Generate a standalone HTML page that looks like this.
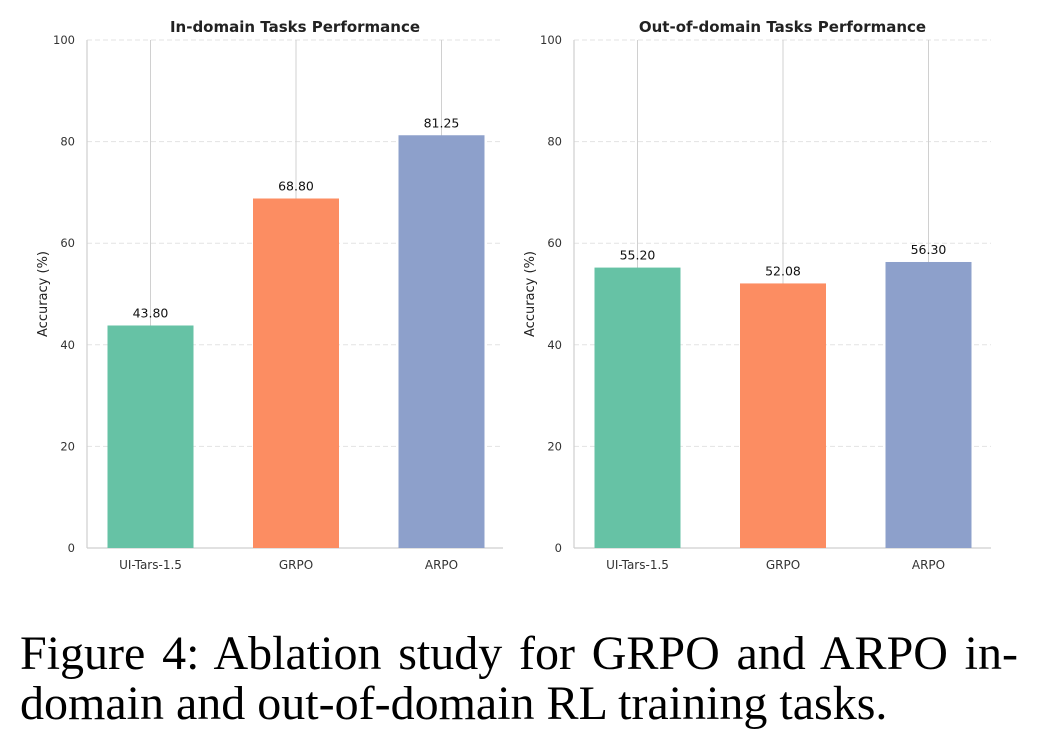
<!DOCTYPE html>
<html><head><meta charset="utf-8"><style>
body{margin:0;background:#fff;width:1042px;height:735px;overflow:hidden}
.cap{position:absolute;left:20px;font-family:"Liberation Serif",serif;font-size:48px;color:#000;white-space:nowrap;line-height:1}
</style></head><body>
<svg id="chart" width="1042" height="600" style="position:absolute;left:0;top:0" font-family="DejaVu Sans, Liberation Sans, sans-serif"></svg>
<div class="cap" style="top:630px;width:998px;text-align:justify;text-align-last:justify">Figure 4: Ablation study for GRPO and ARPO in-</div>
<div class="cap" style="top:680px">domain and out-of-domain RL training tasks.</div>
<script>
const categories = ["UI-Tars-1.5","GRPO","ARPO"];
const inDomain = [43.80, 68.80, 81.25];
const outDomain = [55.20, 52.08, 56.30];
const yTicks = [0,20,40,60,80,100];
const colors = ["#66c2a5","#fc8d62","#8da0cb"];
const NS="http://www.w3.org/2000/svg";
const svg=document.getElementById('chart');
function mk(t,a,txt){const e=document.createElementNS(NS,t);for(const k in a)e.setAttribute(k,a[k]);if(txt!==undefined)e.textContent=txt;svg.appendChild(e);return e;}
function panel(x0,x1,title,vals,key){
  const yTop=40,yBot=548;
  const y=v=>yBot-(v/100)*(yBot-yTop);
  const first=x0+63.5;
  const cx=i=>first+i*145.5;
  yTicks.forEach(t=>{
    if(t>0){const g=mk('line',{x1:x0,x2:x1,y1:y(t),y2:y(t),stroke:'#e3e3e3','stroke-dasharray':'5,3','stroke-width':1});
    }
    const l=mk('text',{x:x0-12,y:y(t)+4,'text-anchor':'end','font-size':11.5,fill:'#333'},String(t));
    
  });
  categories.forEach((c,i)=>{
    const v=mk('line',{x1:cx(i),x2:cx(i),y1:yTop,y2:yBot,stroke:'#d0d0d0','stroke-width':1});
    
  });
  const sp=mk('line',{x1:x0,x2:x0,y1:yTop,y2:yBot,stroke:'#cfcfcf','stroke-width':1.2});
  
  const sx=mk('line',{x1:x0,x2:x1,y1:yBot,y2:yBot,stroke:'#cfcfcf','stroke-width':1.2});
  
  categories.forEach((c,i)=>{
    const w=86;
    const r=mk('rect',{x:cx(i)-w/2,y:y(vals[i]),width:w,height:yBot-y(vals[i]),fill:colors[i]});
    
    const t=mk('text',{x:cx(i),y:y(vals[i])-8,'text-anchor':'middle','font-size':12.5,fill:'#111'},vals[i].toFixed(2));
    
    const xl=mk('text',{x:cx(i),y:569,'text-anchor':'middle','font-size':12,fill:'#333'},c);
    
  });
  const tt=mk('text',{x:(x0+x1)/2,y:32,'text-anchor':'middle','font-size':15,'font-weight':'bold',fill:'#222'},title);
  
  const yl=mk('text',{x:0,y:0,transform:`translate(${x0-40},${(yTop+yBot)/2}) rotate(-90)`,'text-anchor':'middle','font-size':13,fill:'#222'},'Accuracy (%)');
  
}
panel(87,503,'In-domain Tasks Performance',inDomain,'in-domain');
panel(574,991,'Out-of-domain Tasks Performance',outDomain,'out-of-domain');
</script>
</body></html>
